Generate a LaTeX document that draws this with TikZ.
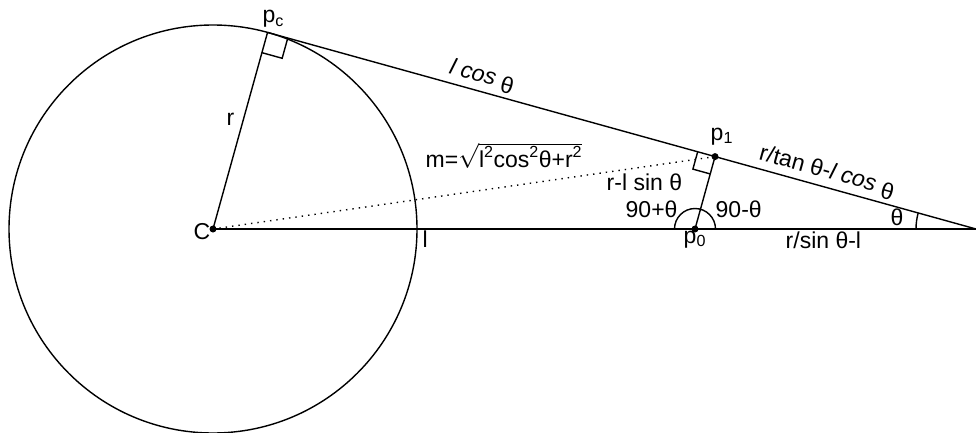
\documentclass[tikz,border=0pt]{standalone}
\usepackage{fontspec}
\setmainfont{Liberation Sans}
\usetikzlibrary{calc}
\begin{document}
\begin{tikzpicture}[x=1pt,y=-1pt,line width=1.4pt,
  lbl/.style={font=\fontsize{23}{27}\selectfont,inner sep=0pt,anchor=base west},
  slbl/.style={font=\fontsize{23}{27}\selectfont,inner sep=0pt,sloped},
  dotpt/.style={fill,circle,inner sep=0pt,minimum size=7pt},
  dottedline/.style={line width=1.4pt,dash pattern=on 1.4pt off 5pt}]
\useasboundingbox (0,0) rectangle (976,433);
\coordinate (C) at (213,229);
\coordinate (A) at (976,229);
\coordinate (pc) at (267.54,32.43);
\coordinate (p0) at (695,229);
\coordinate (p1) at ($(pc)!(p0)!(A)$);
% main lines
\draw (C) circle[radius=204pt];
\draw (C) -- (A);
\draw (pc) -- (A);
\draw (C) -- (pc);
\draw[dottedline] (C) -- (p1);
\draw (p0) -- (p1);
% right angle at pc
\coordinate (pa) at ($(pc)!21pt!(A)$);
\coordinate (pb) at ($(pc)!21pt!(C)$);
\coordinate (pq) at ($(pa)+(pb)-(pc)$);
\draw (pa) -- (pq) -- (pb);
% right angle at p1
\coordinate (qa) at ($(p1)!18pt!(pc)$);
\coordinate (qb) at ($(p1)!18pt!(p0)$);
\coordinate (qq) at ($(qa)+(qb)-(p1)$);
\draw (qa) -- (qq) -- (qb);
% angle arcs
\draw ($(p0)+(20.5,0)$) arc[start angle=0,end angle=180,radius=20.5pt];
\draw ($(A)+(-60,0)$) arc[start angle=180,end angle=164.49,radius=60pt];
% points
\node[dotpt] (dC) at (C) {};
\node[dotpt] (d0) at (p0) {};
\node[dotpt] (d1) at (p1) {};
% labels
\node[lbl] (lpc) at (262,23) {p\textsubscript{c}};
\node[lbl] (lr) at (226,125) {r};
\node[lbl] (lC) at (193,239) {C};
\node[lbl] (ll) at (422,247) {l};
\node[lbl] (lp1) at (710,140) {p\textsubscript{1}};
\node[lbl] (lp0) at (683,243) {p\textsubscript{0}};
\node[lbl] (lm) at (425,167) {m=$\sqrt{\mbox{l\textsuperscript{2}cos\textsuperscript{2}θ+r\textsuperscript{2}}}$};
\node[lbl] (lrl) at (606,190) {r-l sin θ};
\node[lbl] (l90p) at (625,217) {90+θ};
\node[lbl] (l90m) at (715,217) {90-θ};
\node[lbl] (lth) at (890,225) {θ};
\node[lbl] (lrs) at (785,248) {r/sin θ-l};
\path (pc) -- (A) node[slbl,pos=0.297,above=4pt] (llc) {{\itshape l cos} \raisebox{-4pt}{θ}};
\path (pc) -- (A) node[slbl,pos=0.784,above=4pt] (lrt) {r/tan θ-{\itshape l cos} \raisebox{-4pt}{θ}};
\end{tikzpicture}
\end{document}
